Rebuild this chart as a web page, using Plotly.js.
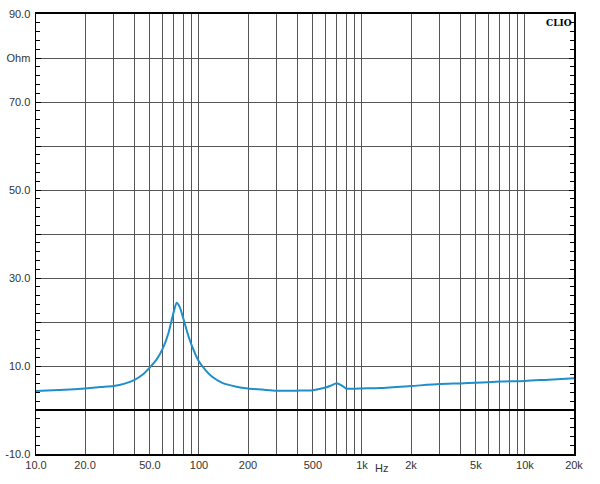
<!DOCTYPE html>
<html><head><meta charset="utf-8">
<script src="https://cdn.plot.ly/plotly-3.0.1.min.js"></script>
<style>html,body{margin:0;padding:0;background:#fff}#chart{width:600px;height:484px}</style>
</head><body><div id="chart"></div>
<script>
const freqHz = [10, 15, 20, 25, 30, 35, 40, 45, 50, 55, 60, 65, 70, 73, 76, 80, 85, 90, 100, 110, 120, 140, 170, 200, 250, 300, 400, 500, 600, 650, 700, 750, 800, 900, 1000, 1300, 2000, 3000, 4000, 5000, 7000, 10000, 14000, 20000];
const impedanceOhm = [4.3, 4.6, 4.9, 5.2, 5.45, 6.0, 6.8, 8.0, 9.7, 11.5, 14.0, 17.5, 22.3, 24.4, 23.5, 20.9, 17.5, 14.8, 11.0, 9.0, 7.6, 6.1, 5.3, 4.9, 4.6, 4.4, 4.4, 4.5, 5.1, 5.6, 6.1, 5.6, 4.9, 4.85, 4.9, 5.0, 5.45, 5.9, 6.05, 6.2, 6.45, 6.6, 6.9, 7.2];

const xGridVals = [10,20,30,40,50,60,70,80,90,100,200,300,400,500,600,700,800,900,1000,2000,3000,4000,5000,6000,7000,8000,9000,10000,20000];
const xLabelMap = {10:"10.0",20:"20.0",50:"50.0",100:"100",200:"200",500:"500",1000:"1k",2000:"2k",5000:"5k",10000:"10k",20000:"20k"};
const xTickText = xGridVals.map(v => xLabelMap[v] || "");
const yLabelAlias = {"\u221210.0": "-10.0", "0.0": "", "20.0": "", "40.0": "", "60.0": "", "80.0": "Ohm"};

const trace = {
  x: freqHz, y: impedanceOhm, type: 'scatter', mode: 'lines',
  line: {color: '#1f8fcc', width: 2, shape: 'spline', smoothing: 0.7},
  hoverinfo: 'skip'
};

const layout = {
  width: 600, height: 484,
  margin: {l: 36, r: 26, t: 14, b: 30},
  paper_bgcolor: '#fff', plot_bgcolor: '#fff',
  showlegend: false,
  font: {family: 'Liberation Sans, Arial, sans-serif', size: 11, color: '#333'},
  xaxis: {
    type: 'log', range: [1, Math.log10(20000)],
    tickmode: 'array', tickvals: xGridVals, ticktext: xTickText,
    showgrid: true, gridcolor: '#555', gridwidth: 1,
    ticks: '', showline: true, linecolor: '#000', linewidth: 2, mirror: true,
    tickfont: {size: 11, color: '#333'}, zeroline: false, fixedrange: true
  },
  yaxis: {
    range: [-10, 90], tickmode: 'linear', tick0: -10, dtick: 10,
    tickformat: '.1f', labelalias: yLabelAlias,
    showgrid: true, gridcolor: '#555', gridwidth: 1,
    zeroline: true, zerolinecolor: '#000', zerolinewidth: 2,
    showline: true, linecolor: '#000', linewidth: 1.5, mirror: 'allticks',
    ticks: 'inside', ticklen: 5, tickwidth: 1, tickcolor: '#000', ticklabelstandoff: 2,
    minor: {dtick: 2, ticks: 'inside', ticklen: 4, tickwidth: 1, tickcolor: '#000', showgrid: false},
    tickfont: {size: 11, color: '#333'}, fixedrange: true
  },
  annotations: [
    {xref: 'x', yref: 'paper', x: Math.log10(1320), y: 0, yshift: -6, yanchor: 'top', text: 'Hz', showarrow: false, font: {size: 11, color: '#333'}},
    {xref: 'paper', yref: 'paper', x: 1, y: 1, xanchor: 'right', yanchor: 'top', yshift: -2, text: '<b>CLIO</b>', showarrow: false, font: {family: 'DejaVu Serif, serif', size: 9, color: '#000'}}
  ]
};

Plotly.newPlot('chart', [trace], layout, {displayModeBar: false, staticPlot: true});
</script></body></html>
